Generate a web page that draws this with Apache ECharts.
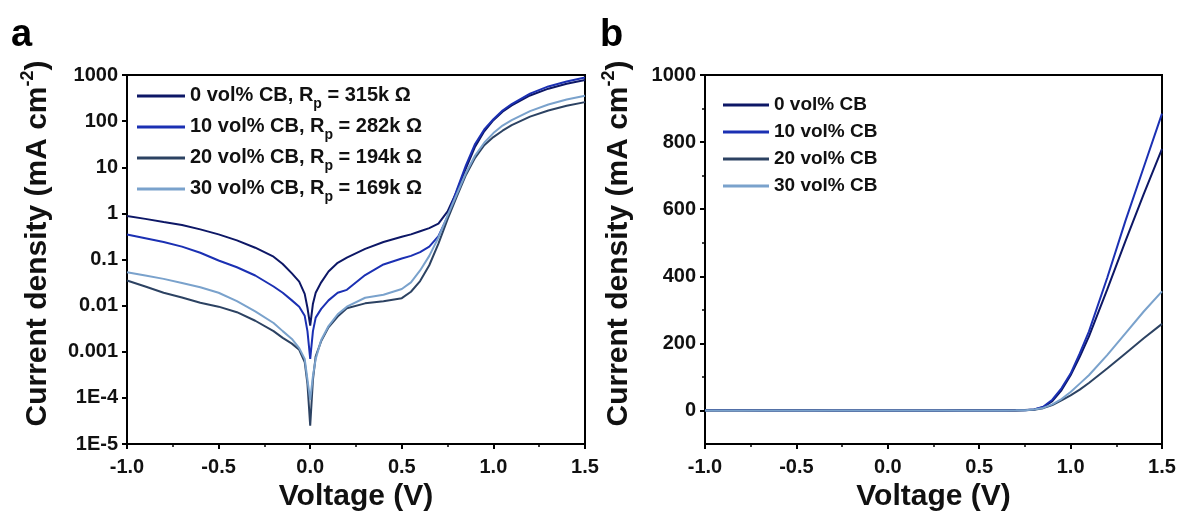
<!DOCTYPE html>
<html>
<head>
<meta charset="utf-8">
<script src="https://cdn.jsdelivr.net/npm/echarts@6/dist/echarts.min.js"></script>
<style>
html,body{margin:0;padding:0;background:#fff;}
#chart{width:1181px;height:514px;}
</style>
</head>
<body>
<div id="chart"></div>
<script>
// ---- data (current density magnitude, mA cm^-2) ----
const voltage = [-1.0,-0.9,-0.8,-0.7,-0.6,-0.5,-0.4,-0.3,-0.2,-0.15,-0.1,-0.06,-0.03,-0.015,0,0.015,0.03,0.06,0.1,0.15,0.2,0.3,0.4,0.5,0.55,0.6,0.65,0.7,0.75,0.8,0.85,0.9,0.95,1.0,1.05,1.1,1.2,1.3,1.4,1.5];
const cb0  = [0.88,0.76,0.65,0.56,0.45,0.35,0.26,0.18,0.115,0.08,0.05,0.033,0.018,0.009,0.0037,0.011,0.019,0.032,0.055,0.085,0.11,0.17,0.24,0.31,0.35,0.41,0.48,0.6,1.1,3.0,9.5,28,60,105,160,220,360,505,645,780];
const cb10 = [0.35,0.29,0.24,0.19,0.14,0.095,0.068,0.045,0.026,0.019,0.013,0.0095,0.006,0.0028,0.0007,0.0028,0.0055,0.0085,0.013,0.019,0.022,0.046,0.078,0.105,0.12,0.145,0.19,0.32,0.85,3.2,11,32,66,110,170,235,395,565,725,885];
const cb20 = [0.035,0.026,0.019,0.015,0.0115,0.0095,0.0072,0.0047,0.0028,0.002,0.0015,0.0011,0.0006,0.0002,0.000025,0.00025,0.0008,0.0017,0.0034,0.0058,0.0088,0.0112,0.0125,0.0145,0.02,0.034,0.075,0.22,0.75,2.3,6.8,16,30,45,62,82,125,170,215,258];
const cb30 = [0.053,0.045,0.038,0.031,0.025,0.019,0.0125,0.0075,0.0042,0.0028,0.0019,0.0012,0.0007,0.00025,0.00009,0.0003,0.0007,0.0018,0.0036,0.0065,0.0095,0.0148,0.0172,0.023,0.032,0.058,0.12,0.3,0.9,2.6,7.5,18,34,55,80,105,165,230,295,355];
const cbLabels = ['0 vol% CB','10 vol% CB','20 vol% CB','30 vol% CB'];
const rpLabels = ['315k','282k','194k','169k'];
const linTicks = [0,200,400,600,800,1000];
const linMinorTicks = [100,300,500,700,900];

const colors = ['#0d1766','#1b30b3','#2c4262','#7aa2cc'];
const seriesData = [cb0, cb10, cb20, cb30];
const FONT = "'Liberation Sans', Arial, sans-serif";

const namesA = cbLabels.map((c,i)=>c + ', Rp = ' + rpLabels[i] + ' Ω');
const namesB = cbLabels.slice();

function logLabel(v){
  const e = Math.round(Math.log10(v));
  if (e >= 0) return String(Math.round(Math.pow(10,e)));
  if (e >= -3) return Math.pow(10,e).toFixed(-e);
  return '1E' + e;
}

const tickLabelStyle = {fontFamily: FONT, fontWeight:'bold', fontSize:20, color:'#111'};
const axisLineStyle = {show:true, onZero:false, lineStyle:{color:'#000', width:2}};

function xAxisDef(gi){
  return {
    type:'value', gridIndex:gi, min:-1, max:1.5, interval:0.5,
    axisLine:axisLineStyle,
    axisTick:{show:true, length:5, inside:false, lineStyle:{color:'#000', width:2}},
    minorTick:{show:true, splitNumber:2, length:3, lineStyle:{color:'#000', width:1.5}},
    splitLine:{show:false},
    axisLabel:Object.assign({margin:13, formatter:v=>v.toFixed(1)}, tickLabelStyle),
    name:'Voltage (V)', nameLocation:'middle', nameGap:28,
    nameTextStyle:{fontFamily:FONT, fontWeight:'bold', fontSize:30, color:'#111'}
  };
}
const yName = '{t|Current density (mA cm}{s|-2}{t|)}';
const yNameStyle = {
  fontFamily:FONT, fontWeight:'bold', color:'#111', padding:[0,0,0,32],
  rich:{
    t:{fontFamily:FONT, fontWeight:'bold', fontSize:30, lineHeight:34, verticalAlign:'bottom', color:'#111'},
    s:{fontFamily:FONT, fontWeight:'bold', fontSize:18, lineHeight:20, verticalAlign:'top', color:'#111'}
  }
};

const option = {
  animation:false,
  backgroundColor:'#fff',
  title:[
    {text:'a', left:6, top:12, textStyle:{fontFamily:FONT, fontWeight:'bold', fontSize:38, color:'#000'}},
    {text:'b', left:595, top:12, textStyle:{fontFamily:FONT, fontWeight:'bold', fontSize:38, color:'#000'}}
  ],
  grid:[
    {left:127, top:75, width:458, height:369, outerBoundsMode:'none', containLabel:false, show:true, borderColor:'#000', borderWidth:2, backgroundColor:'transparent'},
    {left:705, top:75, width:457, height:369, outerBoundsMode:'none', containLabel:false, show:true, borderColor:'#000', borderWidth:2, backgroundColor:'transparent'}
  ],
  xAxis:[xAxisDef(0), xAxisDef(1)],
  yAxis:[
    {
      type:'log', gridIndex:0, logBase:10, min:1e-5, max:1000, splitNumber:8,
      axisLine:axisLineStyle,
      axisTick:{show:true, length:5, lineStyle:{color:'#000', width:2}},
      minorTick:{show:false},
      splitLine:{show:false},
      axisLabel:Object.assign({margin:9, formatter:logLabel}, tickLabelStyle),
      name:yName, nameLocation:'middle', nameRotate:90, nameGap:74, nameTextStyle:yNameStyle
    },
    {
      type:'value', gridIndex:1, min:-100, max:1000, interval:100,
      axisLine:axisLineStyle,
      axisTick:{show:true, length:5, lineStyle:{color:'#000', width:2}, customValues:linTicks},
      splitLine:{show:false},
      axisLabel:Object.assign({margin:9, customValues:linTicks, formatter:v=>String(v)}, tickLabelStyle),
      name:yName, nameLocation:'middle', nameRotate:90, nameGap:71, nameTextStyle:yNameStyle
    },
    {
      type:'value', gridIndex:1, position:'left', offset:0, min:-100, max:1000, interval:100,
      axisLine:{show:false, onZero:false},
      axisTick:{show:true, length:3, lineStyle:{color:'#000', width:1.5}, customValues:linMinorTicks},
      axisLabel:{show:false},
      splitLine:{show:false}
    }
  ],
  legend:[
    {
      data:namesA, orient:'vertical', left:132, top:80, itemWidth:48, itemHeight:3, icon:'rect',
      itemGap:5, selectedMode:false,
      formatter:function(name){
        const i = namesA.indexOf(name);
        return '{a|' + cbLabels[i] + ', R}{s|p}{a| = ' + rpLabels[i] + ' Ω}';
      },
      textStyle:{
        fontFamily:FONT, fontWeight:'bold', fontSize:20, color:'#111',
        rich:{
          a:{fontFamily:FONT, fontWeight:'bold', fontSize:20, lineHeight:22, verticalAlign:'top', color:'#111'},
          s:{fontFamily:FONT, fontWeight:'bold', fontSize:14, lineHeight:14, padding:[12,0,0,0], verticalAlign:'top', color:'#111'}
        }
      }
    },
    {
      data:namesB, orient:'vertical', left:718, top:89, itemWidth:46, itemHeight:3, icon:'rect',
      itemGap:5, selectedMode:false,
      textStyle:{fontFamily:FONT, fontWeight:'bold', fontSize:19, lineHeight:22, color:'#111'}
    }
  ],
  series:[]
};

seriesData.forEach((arr,i)=>{
  const pts = voltage.map((v,k)=>[v, arr[k]]);
  option.series.push({
    name:namesA[i], type:'line', xAxisIndex:0, yAxisIndex:0, data:pts,
    showSymbol:false, symbol:'none', lineStyle:{color:colors[i], width:2}, itemStyle:{color:colors[i]}, z:2+i
  });
});
seriesData.forEach((arr,i)=>{
  const pts = voltage.map((v,k)=>[v, arr[k]]);
  option.series.push({
    name:namesB[i], type:'line', xAxisIndex:1, yAxisIndex:1, data:pts,
    showSymbol:false, symbol:'none', lineStyle:{color:colors[i], width:2}, itemStyle:{color:colors[i]}, z:2+i
  });
});

const chart = echarts.init(document.getElementById('chart'), null, {renderer:'canvas'});
chart.setOption(option);
</script>
</body>
</html>
